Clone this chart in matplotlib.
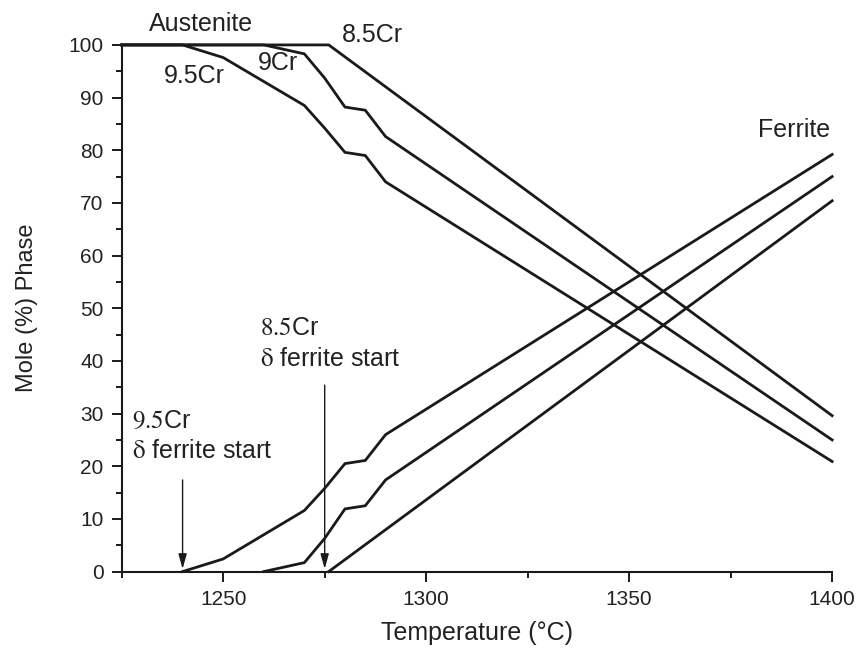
import matplotlib
matplotlib.use("Agg")
import matplotlib.pyplot as plt
from matplotlib.ticker import MultipleLocator

plt.rcParams['font.family'] = ['Liberation Sans', 'DejaVu Sans']
plt.rcParams['mathtext.fontset'] = 'stix'

# Austenite (mole % phase) vs temperature
aus_85_T = [1225, 1276, 1400]
aus_85_v = [100, 100, 29.6]
aus_9_T = [1225, 1260, 1270, 1275, 1280, 1285, 1290, 1400]
aus_9_v = [100, 100, 98.3, 93.7, 88.2, 87.6, 82.6, 25.0]
aus_95_T = [1225, 1240, 1250, 1270, 1275, 1280, 1285, 1290, 1400]
aus_95_v = [100, 100, 97.6, 88.5, 84.2, 79.6, 79.0, 74.0, 20.9]

# Ferrite
fer_85_T = [1276, 1400]
fer_85_v = [0, 70.4]
fer_9_T = [1260, 1270, 1275, 1280, 1285, 1290, 1400]
fer_9_v = [0, 1.7, 6.3, 11.9, 12.5, 17.4, 75.0]
fer_95_T = [1240, 1250, 1270, 1275, 1280, 1285, 1290, 1400]
fer_95_v = [0, 2.4, 11.6, 15.8, 20.5, 21.1, 26.0, 79.2]

x_ticks = [1250, 1300, 1350, 1400]
y_ticks = list(range(0, 101, 10))

fig = plt.figure(figsize=(8.57, 6.51), dpi=100)
ax = fig.add_axes([0.142, 0.122, 0.829, 0.809])

lc = '#1a1a1a'
lw = 2.0
for T, v in [(aus_85_T, aus_85_v), (aus_9_T, aus_9_v), (aus_95_T, aus_95_v),
             (fer_85_T, fer_85_v), (fer_9_T, fer_9_v), (fer_95_T, fer_95_v)]:
    ax.plot(T, v, color=lc, lw=lw, solid_joinstyle='miter', clip_on=False)

ax.set_xlim(1225, 1400)
ax.set_ylim(0, 100)
ax.set_xticks(x_ticks)
ax.set_yticks(y_ticks)
ax.xaxis.set_minor_locator(MultipleLocator(25))
ax.yaxis.set_minor_locator(MultipleLocator(5))
for s in ['top', 'right']:
    ax.spines[s].set_visible(False)
for s in ['left', 'bottom']:
    ax.spines[s].set_linewidth(1.5)
    ax.spines[s].set_color(lc)
ax.tick_params(which='major', direction='out', length=7, width=1.4, labelsize=15,
               color=lc, labelcolor='#222222', pad=6)
ax.tick_params(which='minor', direction='out', length=4.5, width=1.4, color=lc)

ax.set_xlabel('Temperature (°C)', fontsize=18, color='#222222', labelpad=9)
ax.set_ylabel('Mole (%) Phase', fontsize=17, color='#222222', labelpad=22)

tc = '#222222'
ax.text(1244.5, 102.7, 'Austenite', fontsize=18, ha='center', va='baseline', color=tc, clip_on=False)
ax.text(1279.2, 100.6, '8.5Cr', fontsize=18, ha='left', va='baseline', color=tc, clip_on=False)
ax.text(1258.6, 95.3, '9Cr', fontsize=18, ha='left', va='baseline', color=tc)
ax.text(1235.4, 92.8, '9.5Cr', fontsize=18, ha='left', va='baseline', color=tc)
ax.text(1399.5, 82.5, 'Ferrite', fontsize=18, ha='right', va='baseline', color=tc)

ax.text(1259.1, 44.9, r'$\mathrm{8.5}$Cr', fontsize=18, ha='left', va='baseline', color=tc)
ax.text(1259.1, 39.1, r'$\mathrm{δ}$ ferrite start', fontsize=18, ha='left', va='baseline', color=tc)
ax.text(1227.6, 27.2, r'$\mathrm{9.5}$Cr', fontsize=18, ha='left', va='baseline', color=tc)
ax.text(1227.6, 21.6, r'$\mathrm{δ}$ ferrite start', fontsize=18, ha='left', va='baseline', color=tc)

arrow_kw = dict(arrowstyle='-|>,head_length=0.9,head_width=0.25', color=lc, lw=1.0,
                shrinkA=0, shrinkB=0)
ax.annotate('', xy=(1275, 0.5), xytext=(1275, 35.4), arrowprops=arrow_kw)
ax.annotate('', xy=(1240, 0.5), xytext=(1240, 17.4), arrowprops=arrow_kw)

fig.savefig('out.png', dpi=100)
